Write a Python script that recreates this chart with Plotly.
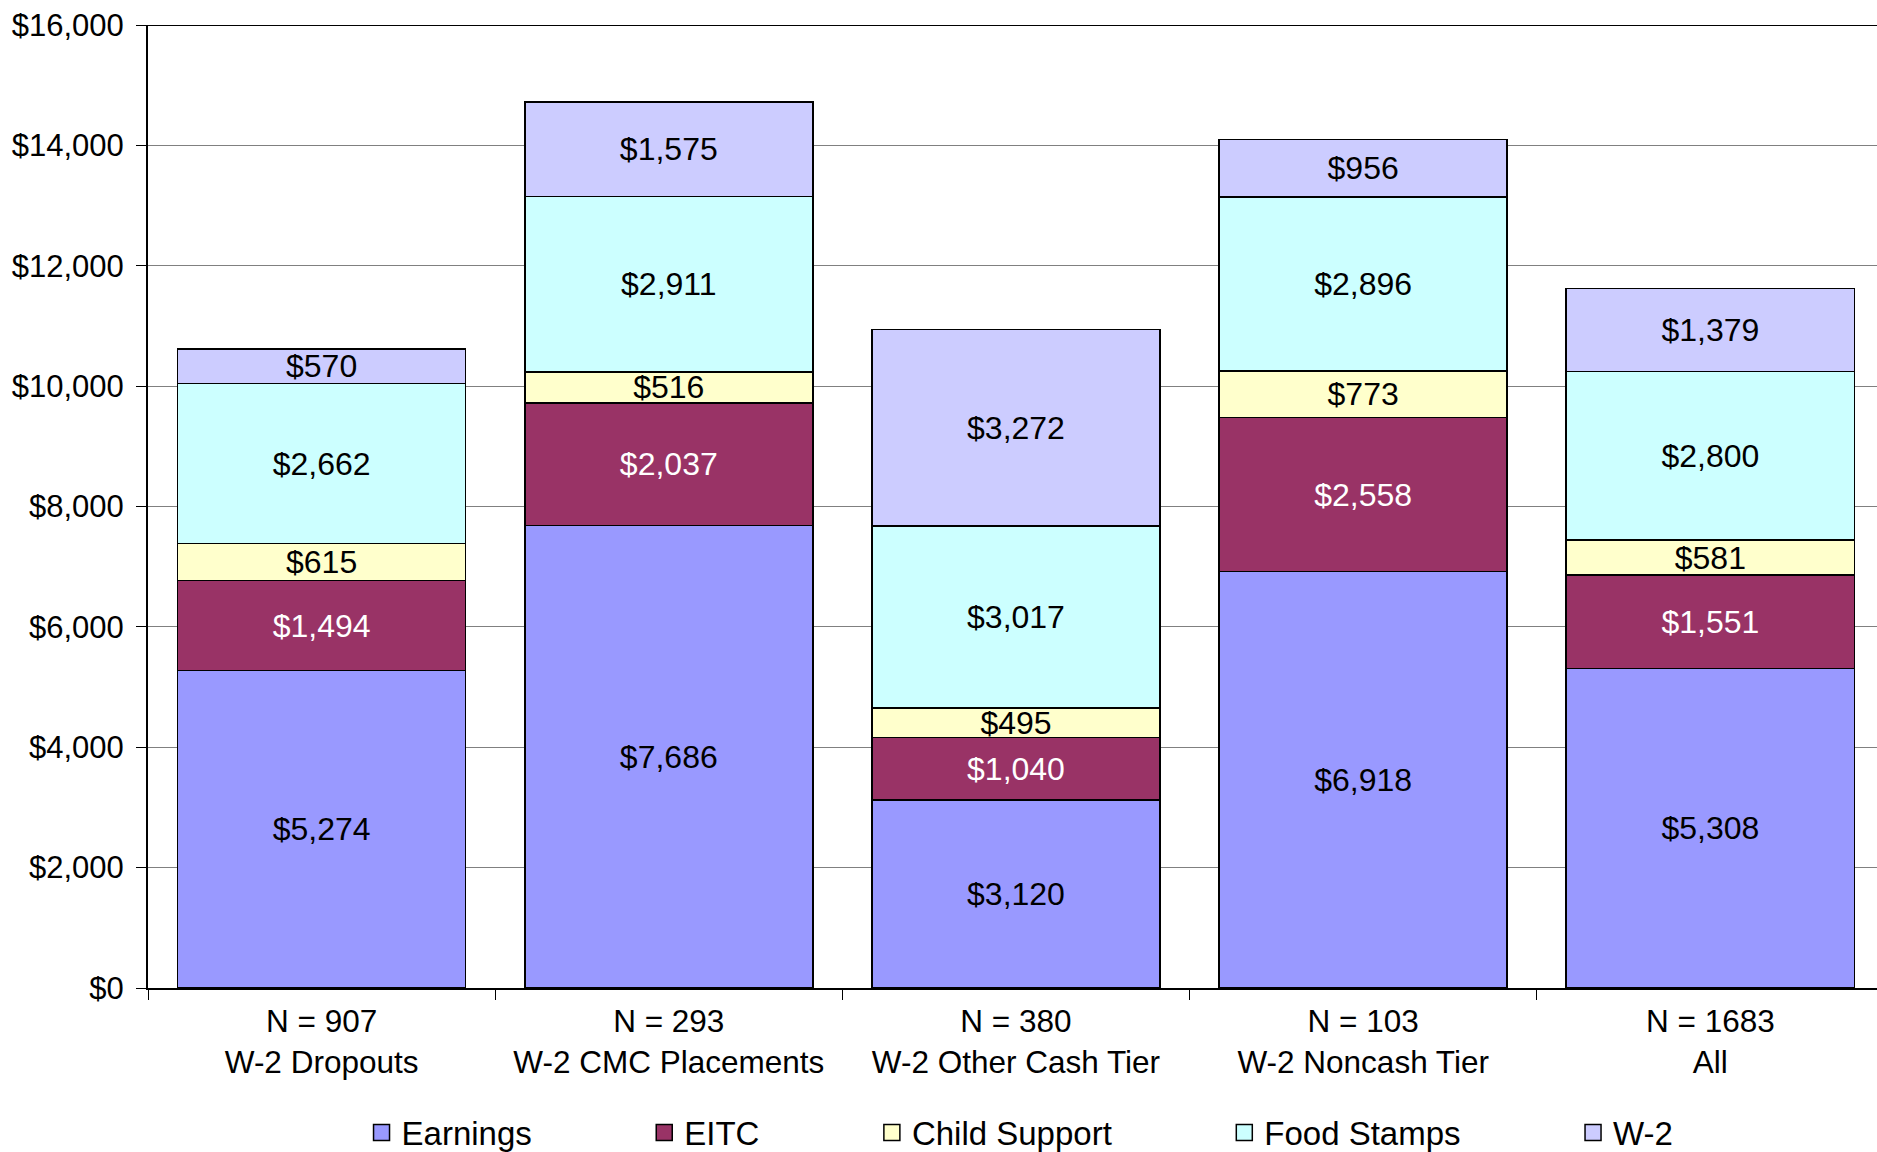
import plotly.graph_objects as go

categories = ["N = 907<br>W-2 Dropouts", "N = 293<br>W-2 CMC Placements",
              "N = 380<br>W-2 Other Cash Tier", "N = 103<br>W-2 Noncash Tier",
              "N = 1683<br>All"]
earnings = [5274, 7686, 3120, 6918, 5308]
eitc = [1494, 2037, 1040, 2558, 1551]
child_support = [615, 516, 495, 773, 581]
food_stamps = [2662, 2911, 3017, 2896, 2800]
w2 = [570, 1575, 3272, 956, 1379]

series = [
    ("Earnings", earnings, "#9999FF", "black"),
    ("EITC", eitc, "#993366", "white"),
    ("Child Support", child_support, "#FFFFCC", "black"),
    ("Food Stamps", food_stamps, "#CCFFFF", "black"),
    ("W-2", w2, "#CCCCFF", "black"),
]

FONT = "Liberation Sans, Arial, sans-serif"
PAD = "\u00a0" * 11 + "\u2009"
fig = go.Figure()
for name, vals, color, tcolor in series:
    fig.add_trace(go.Bar(
        x=categories, y=vals, name=name, showlegend=False,
        marker=dict(color=color, line=dict(color="black", width=1.6)),
        text=[f"${v:,}" for v in vals], textposition="inside",
        insidetextanchor="middle", textangle=0,
        textfont=dict(family=FONT, size=32, color=tcolor),
        hoverinfo="skip",
    ))
# legend entries with larger square swatches
for i, (name, vals, color, tcolor) in enumerate(series):
    fig.add_trace(go.Scatter(
        x=[None], y=[None], mode="markers",
        name=name + (PAD if i < len(series) - 1 else ""),
        marker=dict(symbol="square", size=16, color=color,
                    line=dict(color="black", width=1.5)),
        hoverinfo="skip",
    ))

fig.update_layout(
    barmode="stack", bargap=0.17,
    width=1877, height=1152,
    margin=dict(l=148, r=0, t=25, b=164, autoexpand=False),
    plot_bgcolor="white", paper_bgcolor="white",
    font=dict(family=FONT, size=31, color="black"),
    uniformtext=dict(minsize=32, mode="show"),
    legend=dict(orientation="h", x=0.1235, xanchor="left", y=-0.15, yanchor="middle",
                font=dict(size=33), traceorder="normal", itemwidth=30,
                itemsizing="trace"),
    showlegend=True,
)
fig.update_xaxes(range=[-0.5, 4.48], showline=True, linecolor="black", linewidth=2,
                 ticks="outside", tickson="boundaries", ticklen=10, tickcolor="black",
                 tickfont=dict(size=31.5), automargin=False, ticklabelstandoff=4)
fig.update_yaxes(range=[0, 16000], dtick=2000, tickprefix="$", tickformat=",d",
                 showgrid=True, gridcolor="#808080", gridwidth=1,
                 showline=True, linecolor="black", linewidth=2,
                 ticks="outside", ticklen=10, tickcolor="black",
                 tickfont=dict(size=31), zeroline=False, automargin=False,
                 ticklabelstandoff=6)
fig.add_shape(type="line", xref="paper", yref="y", x0=0, x1=1, y0=16000, y1=16000,
              line=dict(color="black", width=2))

fig.write_html("out.html", config={"displayModeBar": False},
               post_script="document.body.style.margin='0';document.body.style.overflow='hidden';")
